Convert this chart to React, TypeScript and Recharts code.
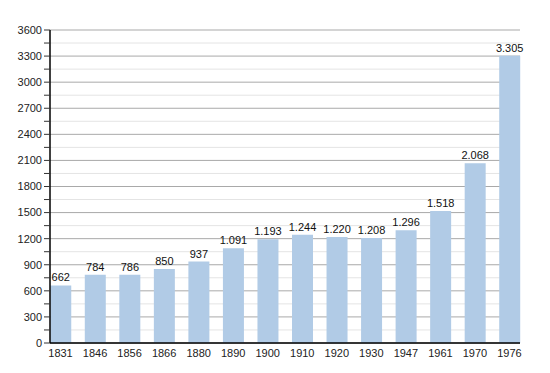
import React from 'react';
import { BarChart, Bar, XAxis, YAxis, CartesianGrid, LabelList } from 'recharts';

const YEARS = ['1831', '1846', '1856', '1866', '1880', '1890', '1900', '1910', '1920', '1930', '1947', '1961', '1970', '1976'];
const POPULATION = [662, 784, 786, 850, 937, 1091, 1193, 1244, 1220, 1208, 1296, 1518, 2068, 3305];
const MAJOR_TICKS = [0, 300, 600, 900, 1200, 1500, 1800, 2100, 2400, 2700, 3000, 3300, 3600];
const MINOR_TICKS = [150, 450, 750, 1050, 1350, 1650, 1950, 2250, 2550, 2850, 3150, 3450];

const ALL_TICKS = [...MAJOR_TICKS, ...MINOR_TICKS].sort((a, b) => a - b);

const data = YEARS.map((year, i) => ({ year, value: POPULATION[i] }));

// 3305 -> "3.305"
const formatThousands = (v: number) => String(v).replace(/\B(?=(\d{3})+(?!\d))/g, '.');

const FONT = '"Liberation Sans", Arial, sans-serif';

export default function App() {
  return (
    <div style={{ position: 'absolute', left: 0, top: 0, background: '#fff' }}>
      <BarChart
        width={550}
        height={373}
        data={data}
        margin={{ top: 30, right: 30, bottom: 0, left: 0 }}
        barSize={21}
        style={{ fontFamily: FONT }}
      >
        <CartesianGrid vertical={false} horizontalValues={MINOR_TICKS} stroke="#e4e4e4" />
        <CartesianGrid vertical={false} horizontalValues={MAJOR_TICKS} stroke="#a9a9a9" />
        <XAxis
          dataKey="year"
          axisLine={{ stroke: '#000', strokeWidth: 1.5 }}
          tickLine={false}
          height={30}
          padding={{ left: -6.75, right: -6.75 }}
          tick={{ fontSize: 11, fill: '#222' }}
          tickMargin={0}
          interval={0}
        />
        <YAxis
          width={50}
          domain={[0, 3600]}
          ticks={ALL_TICKS}
          interval={0}
          tickFormatter={(v: number) => (v % 300 === 0 ? String(v) : '')}
          axisLine={{ stroke: '#000', strokeWidth: 1.5 }}
          tickLine={{ stroke: '#333' }}
          tickSize={6}
          tick={{ fontSize: 11, fill: '#222' }}
        />
        <Bar dataKey="value" fill="#b1cbe6" isAnimationActive={false}>
          <LabelList
            dataKey="value"
            position="top"
            offset={4}
            formatter={(v: number) => formatThousands(v)}
            style={{ fontSize: 11, fill: '#111', fontFamily: FONT }}
          />
        </Bar>
      </BarChart>
    </div>
  );
}
